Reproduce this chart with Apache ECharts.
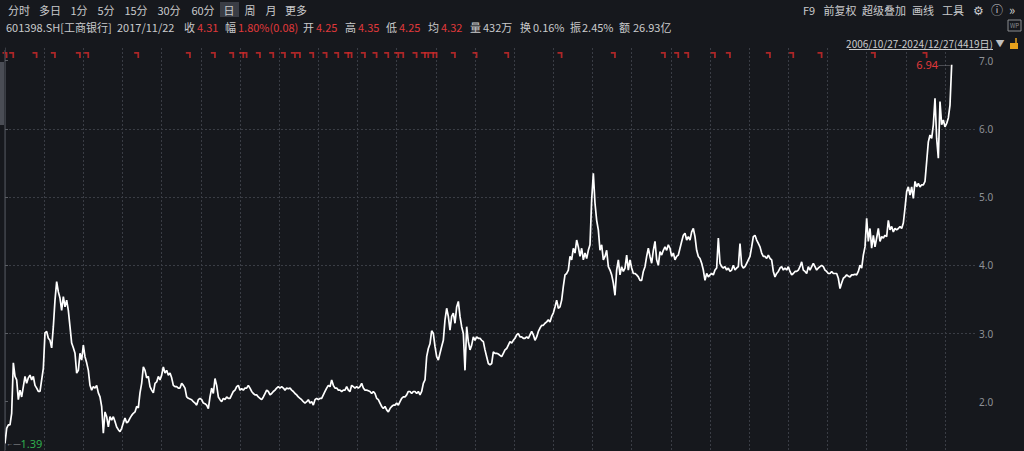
<!DOCTYPE html>
<html><head><meta charset="utf-8">
<script src="https://cdn.jsdelivr.net/npm/echarts@6/dist/echarts.min.js"></script>
<style>html,body{margin:0;padding:0;background:#16181d;}#c{width:1024px;height:451px;}</style>
</head><body><div id="c"></div>
<script>
// closing prices sampled left to right across the chart (2006/10/27 - 2024/12/27)
const prices = [
1.39,1.61,1.66,1.66,1.83,2.57,2.37,2.32,
2.03,2.17,2.07,2.22,2.37,2.27,2.35,2.39,2.32,2.37,
2.24,2.20,2.15,2.15,2.32,2.49,3.01,3.03,2.93,2.90,
2.79,3.10,3.49,3.76,3.61,3.52,3.34,3.54,3.39,3.49,
3.34,3.10,2.86,2.79,2.71,2.42,2.46,2.71,2.61,2.83,
2.66,2.57,2.46,2.24,2.17,2.22,2.20,2.24,2.13,2.07,
1.93,1.54,1.85,1.78,1.63,1.78,1.73,1.78,1.71,1.63,
1.59,1.56,1.61,1.69,1.76,1.69,1.71,1.76,1.80,1.83,
1.85,1.93,1.91,2.13,2.27,2.51,2.46,2.35,2.37,2.22,
2.17,2.13,2.27,2.29,2.37,2.32,2.39,2.51,2.42,2.46,
2.39,2.42,2.35,2.24,2.22,2.22,2.20,2.20,2.27,2.24,
2.20,2.07,2.05,2.04,2.03,2.00,1.98,1.95,2.03,2.05,
2.03,1.98,1.97,1.95,1.90,2.07,2.20,2.12,2.34,2.24,
2.07,2.03,2.00,2.05,2.03,2.07,2.05,2.05,2.10,2.15,
2.17,2.22,2.24,2.17,2.19,2.17,2.20,2.20,2.24,2.20,
2.15,2.12,2.10,2.10,2.07,2.05,2.03,2.07,2.12,2.17,
2.15,2.10,2.12,2.15,2.17,2.20,2.22,2.20,2.22,2.20,
2.17,2.20,2.19,2.20,2.17,2.15,2.12,2.10,2.07,2.05,
2.03,2.00,1.98,2.00,2.03,1.98,2.00,1.95,2.03,2.05,
2.03,2.05,2.05,2.10,2.15,2.20,2.24,2.22,2.32,2.24,
2.20,2.20,2.17,2.17,2.15,2.17,2.17,2.22,2.17,2.15,
2.24,2.22,2.20,2.22,2.20,2.22,2.27,2.20,2.17,2.17,
2.16,2.15,2.12,2.15,2.12,2.05,2.03,1.98,1.93,1.90,
1.93,1.88,1.85,1.90,1.93,1.95,1.95,1.98,1.95,2.00,
2.05,2.07,2.07,2.10,2.15,2.15,2.12,2.15,2.15,2.12,
2.15,2.10,2.15,2.27,2.32,2.66,2.78,2.85,3.04,3.00,
2.81,2.66,2.61,2.71,2.81,2.90,3.20,3.37,3.25,3.05,
3.25,3.30,3.15,3.39,3.47,3.25,3.10,3.00,2.46,3.10,
2.88,2.76,2.83,2.95,2.90,2.95,2.93,2.93,2.90,2.88,
2.76,2.66,2.56,2.54,2.56,2.73,2.71,2.71,2.70,2.68,
2.66,2.71,2.76,2.78,2.83,2.88,2.86,2.90,2.93,2.98,
3.00,2.95,2.95,2.93,2.93,2.95,2.93,2.98,3.03,2.98,
2.90,2.95,3.03,3.08,3.12,3.12,3.15,3.17,3.20,3.17,
3.25,3.30,3.39,3.49,3.37,3.39,3.49,3.69,3.86,3.88,
3.93,4.13,4.08,4.25,4.18,4.37,4.27,4.13,4.25,4.08,
4.18,4.10,4.22,4.30,4.96,5.35,4.91,4.66,4.52,4.22,
4.30,4.08,4.13,4.22,3.98,3.93,3.86,3.74,3.56,3.93,
4.08,3.86,3.98,3.91,3.96,4.15,3.93,4.08,3.96,3.88,
3.88,3.86,3.83,3.78,3.78,3.91,3.98,4.13,4.25,4.13,
4.03,4.22,4.35,4.08,4.00,4.20,4.15,4.22,4.27,4.22,
4.30,4.25,4.13,4.18,4.08,4.13,4.15,4.25,4.35,4.44,
4.47,4.37,4.42,4.37,4.49,4.54,4.42,4.22,4.13,4.10,
4.03,3.93,3.78,3.88,3.83,3.86,3.88,3.86,3.93,3.96,
4.40,4.03,3.98,3.96,3.98,3.93,3.96,3.91,3.93,4.00,
3.93,3.96,3.98,4.32,4.00,3.96,3.98,4.03,4.08,4.13,
4.27,4.42,4.44,4.37,4.32,4.27,4.18,4.13,4.13,4.10,
4.15,4.10,4.08,3.91,3.83,3.88,3.91,3.96,3.98,3.93,
3.96,3.93,3.98,3.91,3.86,3.88,3.91,3.91,3.93,3.98,
4.05,3.93,3.91,3.88,3.98,3.93,3.98,4.03,3.98,3.93,
3.96,3.98,4.00,3.98,3.93,3.91,3.88,3.88,3.91,3.88,
3.88,3.88,3.81,3.66,3.74,3.81,3.83,3.86,3.84,3.83,
3.86,3.86,3.87,3.86,3.91,4.00,3.96,4.15,4.27,4.69,
4.35,4.54,4.25,4.44,4.27,4.40,4.54,4.35,4.42,4.40,
4.44,4.42,4.66,4.52,4.57,4.49,4.54,4.52,4.54,4.57,
4.54,4.62,4.84,5.08,5.15,5.03,5.15,4.98,5.23,5.15,
5.20,5.15,5.18,5.18,5.23,5.52,5.81,5.91,5.86,6.06,
6.45,5.86,5.57,6.40,6.06,6.13,6.03,6.08,6.16,6.35,
6.94
];
const yTicks = [2, 3, 4, 5, 6, 7];
// sample positions of the information-mine (event) flags
const eventIdx = [0,4,18,29,44,49,79,110,125,136,142,144,152,160,167,173,176,184,192,199,205,207,215,222,229,235,238,246,251,253,256,258,269,282,301,333,365,395,403,409,425,434,458,472,489,521,552];
const tabs = ['分时','多日','1分','5分','15分','30分','60分','日','周','月','更多'];
const tabX = [19,50,79,106,136,169,203,229,250,271,296];
const tools = ['F9','前复权','超级叠加','画线','工具'];
const toolX = [809,840,884,923,953];
const quoteLabels = ['601398.SH[工商银行]','2017/11/22','收','幅','开','高','低','均','量','换','振','额'];
const quoteValues = ['','','4.31','1.80%(0.08)','4.25','4.35','4.25','4.32','432万','0.16%','2.45%','26.93亿'];
const quoteRed = [false,false,true,true,true,true,true,true,false,false,false,false];
const quoteX = [6,117,184,225,303,345,386,428,470,520,570,619];
const rangeText = '2006/10/27-2024/12/27(4419日)';

const FONT = '"Noto Sans CJK SC","Noto Sans",sans-serif';
const RED = '#e0393b', GREEN = '#2fae4e', TXT = '#c9cacc', BG = '#16181d';
const yMin = 1.292, yMax = 7.186, xMax = 582;

const g = [];
function txt(x, y, text, fill, align, size) {
  g.push({type:'text', x:x, y:y, silent:true, z:10,
    style:{text:text, fill:fill, font:(size||11)+'px '+FONT, textAlign:align||'left', textVerticalAlign:'middle'}});
}
// top toolbar
g.push({type:'rect', shape:{x:220,y:2,width:19,height:15}, style:{fill:'#3a3d45'}, z:5});
tabs.forEach((t,i)=>txt(tabX[i], 9.5, t, TXT, 'center'));
tools.forEach((t,i)=>txt(toolX[i], 9.5, t, TXT, 'center'));
txt(978, 9.5, '⚙', TXT, 'center', 12);
txt(997, 9.5, 'ⓘ', TXT, 'center', 12);
txt(1012, 9.5, '»', TXT, 'center', 13);
// quote line
const qLabelW = [0,0,13,13,13,13,13,13,13,13,12,14];
quoteLabels.forEach((t,i)=>{
  txt(quoteX[i], 26.5, t, TXT, 'left');
  if (quoteValues[i]) txt(quoteX[i] + qLabelW[i], 26.5, quoteValues[i], quoteRed[i] ? RED : TXT, 'left');
});
g.push({type:'rect', shape:{x:1008,y:20,width:13,height:11}, style:{fill:'none', stroke:'#8a8c90', lineWidth:1}, z:10});
txt(1014.5, 25.5, 'WP', '#8a8c90', 'center', 6);
// range line
txt(993, 43, rangeText, TXT, 'right', 10);
g.push({type:'line', shape:{x1:849,y1:49.5,x2:993,y2:49.5}, style:{stroke:TXT, lineWidth:1}, z:10});
txt(1000, 43, '▼', '#bfc0c2', 'center', 9);
g.push({type:'rect', shape:{x:1010,y:43,width:8,height:6}, style:{fill:'#e8a21c'}, z:10});
g.push({type:'line', shape:{x1:1016,y1:43,x2:1016,y2:38}, style:{stroke:'#e8a21c', lineWidth:1.5}, z:10});
// left border
g.push({type:'line', shape:{x1:4.5,y1:50,x2:4.5,y2:451}, style:{stroke:'#33363d', lineWidth:1}, z:10});
g.push({type:'rect', shape:{x:0,y:62,width:4,height:63}, style:{fill:'#4a4d55'}, z:10});

const GRID_LINE = {color:'#3a3d45', type:[2,2], width:1};
const chart = echarts.init(document.getElementById('c'), null, {renderer:'svg'});
chart.setOption({
  backgroundColor: BG,
  animation: false,
  grid: {left:5, right:49, top:48, bottom:1, containLabel:false},
  xAxis: {type:'value', min:0, max:xMax, interval:23.5,
    axisLine:{show:false}, axisTick:{show:false}, axisLabel:{show:false},
    splitLine:{show:true, showMinLine:false, showMaxLine:false, lineStyle:GRID_LINE}},
  yAxis: {type:'value', position:'right', min:yMin, max:yMax, splitNumber:6, scale:true,
    axisLine:{show:true, lineStyle:{color:'#3a3d44'}},
    axisTick:{show:true, length:3, lineStyle:{color:'#5b5e64'}, customValues: yTicks},
    axisLabel:{color:'#8e9197', fontSize:10, fontFamily:'"Noto Sans",sans-serif', margin:4,
      customValues: yTicks, formatter:v=>Number(v).toFixed(1)},
    splitLine:{show:true, showMinLine:false, showMaxLine:false, lineStyle:GRID_LINE}},
  graphic: g,
  series: [
    {type:'line', data: prices.map((p,i)=>[i,p]), showSymbol:false, clip:true,
      lineStyle:{color:'#ffffff', width:1.7}, z:3,
      markPoint:{symbol:'circle', symbolSize:1, itemStyle:{color:'rgba(0,0,0,0)'}, silent:true, data:[
        {type:'max', label:{show:true, position:'left', distance:1, formatter:p=>'{r|'+Number(p.value).toFixed(2)+'}{l|——}',
          rich:{r:{color:RED, fontSize:11, fontFamily:'"Noto Sans",sans-serif'}, l:{color:'#9a9ca0', fontSize:6}}}},
        {type:'min', label:{show:true, position:'right', distance:1, formatter:p=>'{l|←—}{g|'+Number(p.value).toFixed(2)+'}',
          rich:{g:{color:GREEN, fontSize:11, fontFamily:'"Noto Sans",sans-serif'}, l:{color:'#9a9ca0', fontSize:7}}}}
      ]}},
    {type:'scatter', data: eventIdx.map(i=>[i, yMax]), clip:false, silent:true,
      symbol:'path://M0 0 H4 V5 H2.6 V1.4 H0 Z', symbolSize:[5,6], symbolOffset:[0,7],
      itemStyle:{color:'#d42a2a'}, z:4}
  ]
});
</script></body></html>
